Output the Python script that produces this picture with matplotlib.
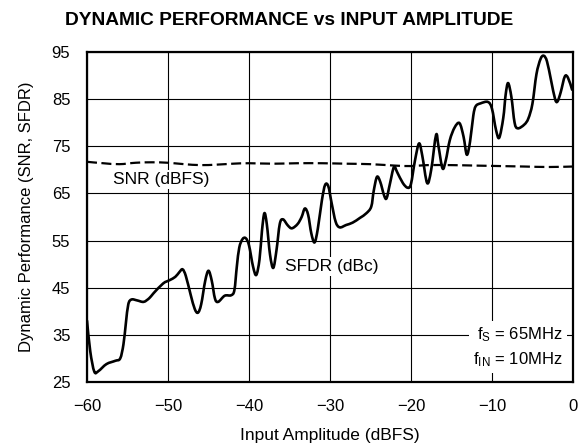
import matplotlib
matplotlib.use("Agg")
import matplotlib.pyplot as plt
from matplotlib.path import Path
from matplotlib.patches import PathPatch

plt.rcParams['font.family'] = ['Liberation Sans', 'DejaVu Sans']
plt.rcParams['mathtext.default'] = 'regular'

# SFDR (dBc)
sfdr_x = [-60.0, -59.6, -59.1, -58.6, -57.6, -56.5, -55.9, -55.5, -55.2, -54.9,
          -54.5, -53.8, -53.0, -52.3, -51.8, -50.6, -49.8, -49.1, -48.6, -48.2,
          -47.8, -47.2, -46.7, -46.3, -45.9, -45.4, -45.0, -44.6, -44.2, -43.8,
          -43.0, -42.2, -41.8, -41.5, -41.2, -40.8, -40.4, -40.0, -39.5, -39.1,
          -38.7, -38.4, -38.1, -37.8, -37.4, -37.0, -36.6, -36.2, -35.8, -35.2,
          -34.7, -34.0, -33.5, -33.1, -32.7, -32.3, -31.9, -31.5, -31.0, -30.6,
          -30.2, -29.8, -29.3, -28.8, -28.0, -27.2, -26.3, -25.5, -24.9, -24.6,
          -24.2, -23.8, -23.3, -23.0, -22.6, -22.1, -21.7, -21.0, -20.4, -20.0,
          -19.5, -19.0, -18.6, -18.0, -17.5, -16.9, -16.6, -16.1, -15.7, -15.2,
          -14.6, -14.0, -13.5, -13.1, -12.7, -12.3, -12.0, -11.4, -10.5, -10.0,
          -9.5, -9.1, -8.6, -8.3, -8.0, -7.6, -7.2, -6.8, -6.0, -5.5,
          -5.0, -4.5, -4.0, -3.6, -3.2, -2.7, -2.2, -1.9, -1.5, -1.0,
          -0.6, -0.1]
sfdr_y = [38.0, 31.5, 27.2, 27.3, 28.8, 29.5, 30.0, 33.0, 37.5, 41.5,
          42.5, 42.3, 42.0, 42.8, 43.8, 45.9, 46.6, 47.3, 48.3, 48.9,
          47.5, 43.5, 40.5, 39.7, 41.5, 46.5, 48.6, 46.5, 42.7, 42.0,
          43.3, 43.4, 44.5, 49.5, 53.5, 55.3, 55.5, 54.0, 49.5, 47.7,
          51.0, 57.0, 60.8, 58.5, 52.0, 49.2, 53.0, 58.5, 59.5, 58.2,
          57.6, 58.5, 60.0, 61.8, 60.5, 56.5, 54.6, 57.5, 63.5, 66.8,
          66.5, 63.0, 59.0, 57.8, 58.3, 58.8, 59.8, 60.8, 62.2, 65.5,
          68.5, 67.5, 64.5, 64.0, 67.0, 70.6, 69.5, 67.2, 66.2, 67.0,
          72.0, 75.6, 73.0, 67.2, 70.0, 77.4, 75.0, 70.3, 72.0, 76.3,
          79.0, 79.9, 77.0, 73.2, 76.0, 81.5, 83.5, 84.1, 84.4, 83.0,
          78.5, 76.8, 81.0, 86.0, 88.4, 85.5, 80.0, 78.8, 79.6, 80.9,
          84.0, 90.3, 93.5, 94.2, 93.0, 89.0, 85.0, 84.5, 86.5, 89.8,
          89.5, 87.0]

# SNR (dBFS)
snr_x = [-60, -58, -56, -54, -52, -50, -48, -46, -44, -42, -40, -37, -34,
         -31, -28, -25, -22, -20, -18, -15, -12, -9, -6, -3, 0]
snr_y = [71.7, 71.4, 71.2, 71.5, 71.6, 71.5, 71.2, 71.0, 71.1, 71.3, 71.4,
         71.3, 71.4, 71.4, 71.3, 71.2, 70.9, 70.8, 71.0, 71.0, 70.9, 70.8,
         70.7, 70.6, 70.7]

x_ticks = [-60, -50, -40, -30, -20, -10, 0]
y_ticks = [25, 35, 45, 55, 65, 75, 85, 95]


def smooth_path(xs, ys):
    # catmull-rom through the points, drawn as cubic bezier segments
    pts = list(zip(xs, ys))
    n = len(pts)
    verts = [pts[0]]
    codes = [Path.MOVETO]
    for i in range(n - 1):
        p0 = pts[max(i - 1, 0)]
        p1 = pts[i]
        p2 = pts[i + 1]
        p3 = pts[min(i + 2, n - 1)]
        c1 = (p1[0] + (p2[0] - p0[0]) / 6, p1[1] + (p2[1] - p0[1]) / 6)
        c2 = (p2[0] - (p3[0] - p1[0]) / 6, p2[1] - (p3[1] - p1[1]) / 6)
        verts += [c1, c2, p2]
        codes += [Path.CURVE4] * 3
    return Path(verts, codes)


fig = plt.figure(figsize=(5.84, 4.43), dpi=100)
ax = fig.add_axes([0.149, 0.1377, 0.832, 0.745])

ax.add_patch(PathPatch(smooth_path(snr_x, snr_y), fill=False, color='black',
                       lw=1.6, linestyle=(0, (4.5, 2))))
ax.add_patch(PathPatch(smooth_path(sfdr_x, sfdr_y), fill=False, color='black',
                       lw=1.9, joinstyle='round', capstyle='round'))

ax.set_xlim(-60, 0)
ax.set_ylim(25, 95)
ax.set_xticks(x_ticks)
ax.set_yticks(y_ticks)
ax.grid(True, color='black', lw=0.8)
ax.set_axisbelow(True)
ax.tick_params(length=0, labelsize=12, pad=12)
for s in ax.spines.values():
    s.set_linewidth(1.6)

ax.set_xlabel('Input Amplitude (dBFS)', fontsize=12.5, labelpad=10)
ax.set_ylabel('Dynamic Performance (SNR, SFDR)', fontsize=12, labelpad=13)
fig.text(0.495, 0.953, 'DYNAMIC PERFORMANCE vs INPUT AMPLITUDE',
         ha='center', va='center', fontsize=13.8, fontweight='bold')

box = dict(facecolor='white', edgecolor='none', pad=1.5)
ax.text(-56.8, 67.9, 'SNR (dBFS)', fontsize=12.5, va='center', bbox=box)
ax.text(-35.5, 49.5, 'SFDR (dBc)', fontsize=12.5, va='center', bbox=box)
ax.text(-1.3, 32.4, 'f$_S$ = 65MHz\nf$_{IN}$ = 10MHz', fontsize=12,
        ha='right', va='center', linespacing=1.5,
        bbox=dict(facecolor='white', edgecolor='none', pad=3))

fig.savefig('out.png', dpi=100)
